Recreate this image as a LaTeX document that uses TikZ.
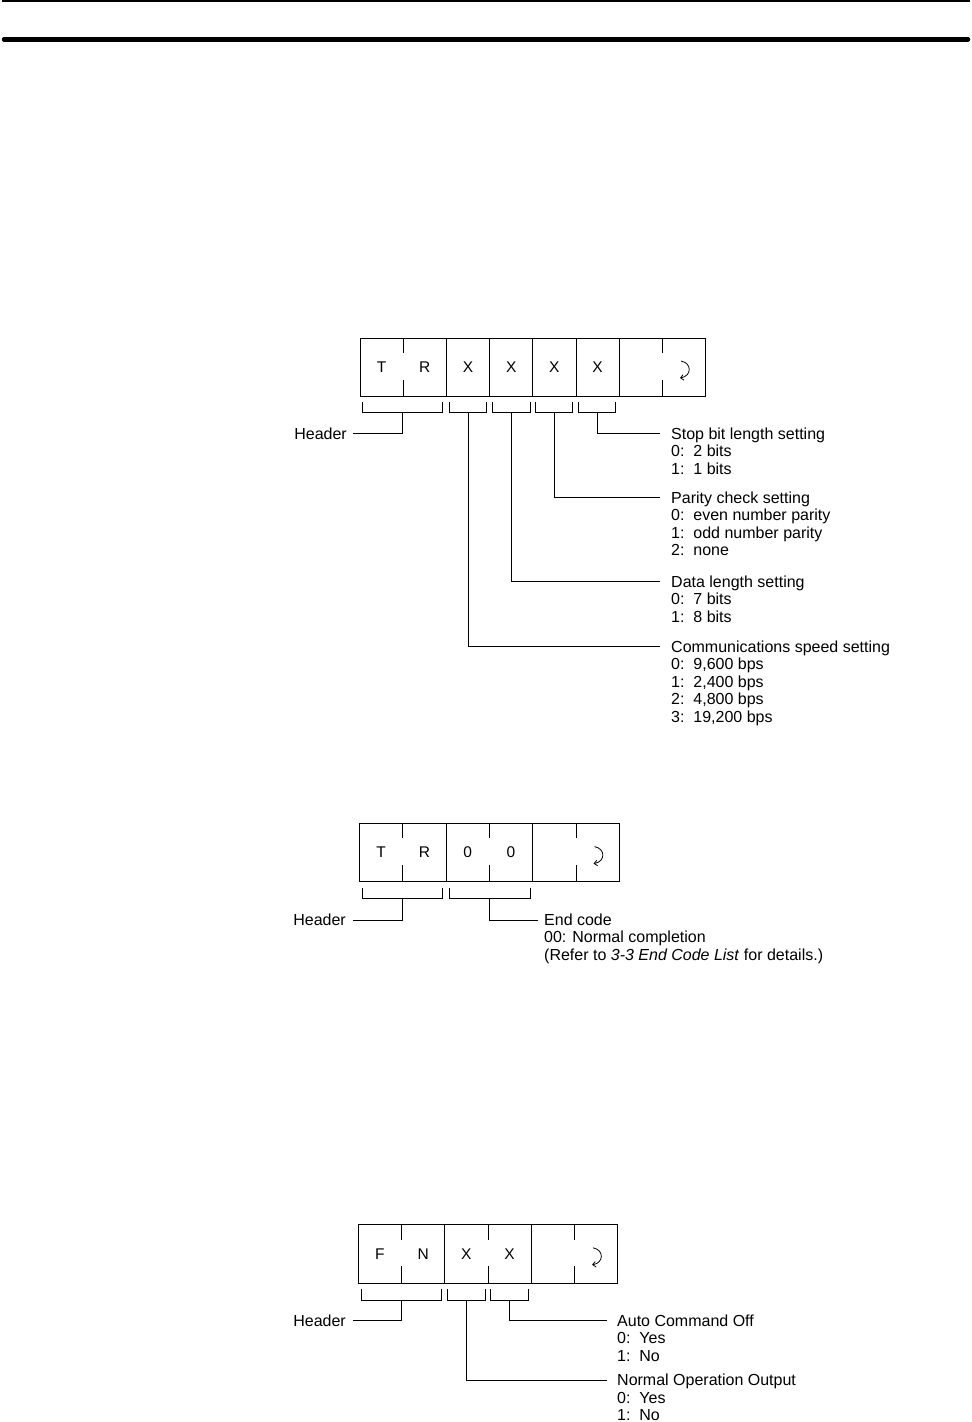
\documentclass[tikz,border=0pt]{standalone}
\usepackage{fontspec}
\setmainfont{Liberation Sans}
\usetikzlibrary{arrows.meta}
\newcommand\mylines[1]{\begin{tabular}[t]{@{}l@{}}#1\end{tabular}}
\begin{document}
\begin{tikzpicture}[x=1pt,y=-1pt,
  ln/.style={line width=0.9pt},
  lbl/.style={font=\fontsize{16}{17.5}\selectfont, anchor=base west, inner sep=0pt},
  hdr/.style={font=\fontsize{16}{17.5}\selectfont, anchor=base east, inner sep=0pt},
  ch/.style={font=\fontsize{15.5}{18}\selectfont, inner sep=0pt},
  retmark/.pic={\draw[line width=0.8pt,-{Straight Barb[length=3pt,width=5.5pt]}] (-3,-6) .. controls (8,-4) and (8,9) .. (-4,11);}
]
\useasboundingbox (0,0) rectangle (972,1422);
% top rules
\draw[line width=1.5pt] (2,1) -- (970,1);
\draw[line width=4.5pt, line cap=round] (4,39.3) -- (968,39.3);

% ---------------- Diagram 1 ----------------
\draw[ln] (360,338) rectangle (705.6,396);
\foreach \x in {446.4,489.6,532.8,576,619.2} \draw[ln] (\x,338) -- (\x,396);
\foreach \x in {403.2,662.4} {\draw[ln] (\x,338) -- (\x,353); \draw[ln] (\x,380) -- (\x,396);}
\node[ch] (a1) at (381.6,367) {T};
\node[ch] (a2) at (424.8,367) {R};
\node[ch] (a3) at (468,367) {X};
\node[ch] (a4) at (511.2,367) {X};
\node[ch] (a5) at (554.4,367) {X};
\node[ch] (a6) at (597.6,367) {X};
\pic at (684,367) {retmark};
% brackets
\draw[ln] (362.7,401.7) -- (362.7,412.7) -- (442.7,412.7) -- (442.7,401.7);
\draw[ln] (449.3,401.7) -- (449.3,412.7) -- (486.7,412.7) -- (486.7,401.7);
\draw[ln] (492.7,401.7) -- (492.7,412.7) -- (530,412.7) -- (530,401.7);
\draw[ln] (535.3,401.7) -- (535.3,412.7) -- (572.7,412.7) -- (572.7,401.7);
\draw[ln] (578.7,401.7) -- (578.7,412.7) -- (615.3,412.7) -- (615.3,401.7);
\coordinate (s1) at (402.7,412.7);
\coordinate (s2) at (468,412.7);
\coordinate (s3) at (511.3,412.7);
\coordinate (s4) at (554,412.7);
\coordinate (s5) at (597,412.7);
\coordinate (e1) at (353,433);
\coordinate (e5) at (660,433);
\coordinate (e4) at (660,497);
\coordinate (e3) at (660,581);
\coordinate (e2) at (660,646);
\draw[ln] (s1) |- (e1);
\draw[ln] (s5) |- (e5);
\draw[ln] (s4) |- (e4);
\draw[ln] (s3) |- (e3);
\draw[ln] (s2) |- (e2);
\node[hdr] (h1) at (347,439) {Header};
\node[lbl] (t5) at (671,439) {\mylines{Stop bit length setting\\0:~~2 bits\\1:~~1 bits}};
\node[lbl] (t4) at (671,503) {\mylines{Parity check setting\\0:~~even number parity\\1:~~odd number parity\\2:~~none}};
\node[lbl] (t3) at (671,587) {\mylines{Data length setting\\0:~~7 bits\\1:~~8 bits}};
\node[lbl] (t2) at (671,652) {\mylines{Communications speed setting\\0:~~9,600 bps\\1:~~2,400 bps\\2:~~4,800 bps\\3:~~19,200 bps}};

% ---------------- Diagram 2 ----------------
\draw[ln] (359.5,823.5) rectangle (619.3,881.7);
\foreach \x in {446.1,532.7} \draw[ln] (\x,823.5) -- (\x,881.7);
\foreach \x in {402.8,489.4,576} {\draw[ln] (\x,823.5) -- (\x,838); \draw[ln] (\x,865) -- (\x,881.7);}
\node[ch] (b1) at (381.2,852.6) {T};
\node[ch] (b2) at (424.5,852.6) {R};
\node[ch] (b3) at (467.8,852.6) {0};
\node[ch] (b4) at (511,852.6) {0};
\pic at (597.6,852.6) {retmark};
\draw[ln] (362.7,887.7) -- (362.7,898.3) -- (442.7,898.3) -- (442.7,887.7);
\draw[ln] (449.3,887.7) -- (449.3,898.3) -- (530,898.3) -- (530,887.7);
\coordinate (u1) at (402.7,898.3);
\coordinate (u2) at (489.6,898.3);
\coordinate (v1) at (353,920);
\coordinate (v2) at (538,920);
\draw[ln] (u1) |- (v1);
\draw[ln] (u2) |- (v2);
\node[hdr] (h2) at (346,925) {Header};
\node[lbl] (ec) at (544,925) {\mylines{End code\\00: Normal completion\\(Refer to \textit{3-3 End Code List} for details.)}};

% ---------------- Diagram 3 ----------------
\draw[ln] (358.3,1224.3) rectangle (617.7,1283.3);
\foreach \x in {444.8,531.2} \draw[ln] (\x,1224.3) -- (\x,1283.3);
\foreach \x in {401.5,488,574.5} {\draw[ln] (\x,1224.3) -- (\x,1240); \draw[ln] (\x,1266) -- (\x,1283.3);}
\node[ch] (c1) at (379.9,1253.8) {F};
\node[ch] (c2) at (423.1,1253.8) {N};
\node[ch] (c3) at (466.4,1253.8) {X};
\node[ch] (c4) at (509.6,1253.8) {X};
\pic at (596.1,1253.8) {retmark};
\draw[ln] (361.7,1289) -- (361.7,1300) -- (441.7,1300) -- (441.7,1289);
\draw[ln] (447.3,1289) -- (447.3,1300) -- (485,1300) -- (485,1289);
\draw[ln] (490.7,1289) -- (490.7,1300) -- (528.3,1300) -- (528.3,1289);
\coordinate (w1) at (401.7,1300);
\coordinate (w2) at (466.2,1300);
\coordinate (w3) at (509.5,1300);
\coordinate (z1) at (353,1320.5);
\coordinate (z2) at (607,1380.5);
\coordinate (z3) at (607,1320.5);
\draw[ln] (w1) |- (z1);
\draw[ln] (w2) |- (z2);
\draw[ln] (w3) |- (z3);
\node[hdr] (h3) at (346,1326) {Header};
\node[lbl] (ac) at (617,1326) {\mylines{Auto Command Off\\0:~~Yes\\1:~~No}};
\node[lbl] (no) at (617,1385.5) {\mylines{Normal Operation Output\\0:~~Yes\\1:~~No}};
\end{tikzpicture}
\end{document}
